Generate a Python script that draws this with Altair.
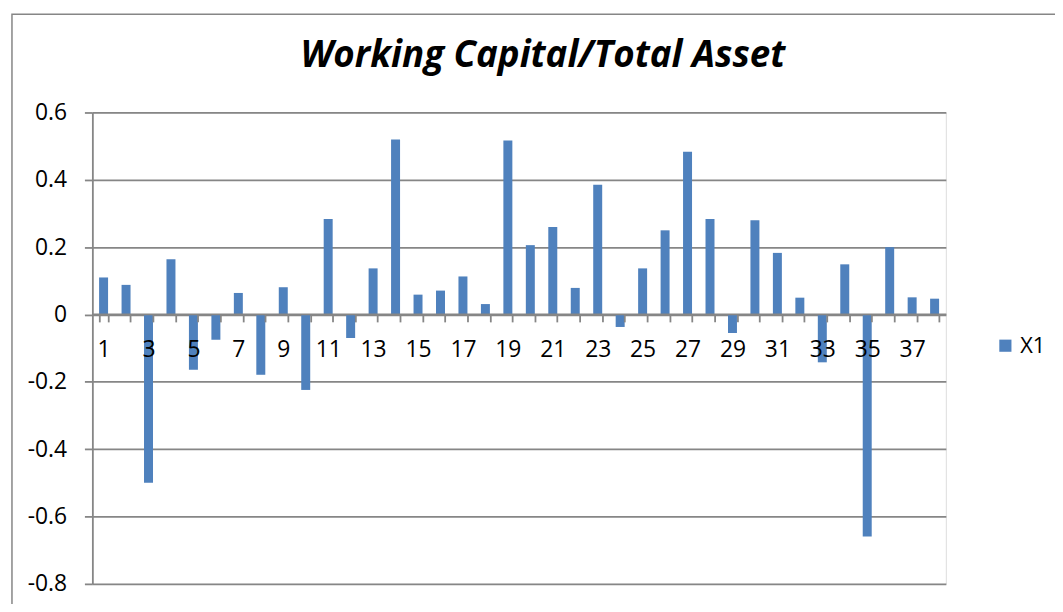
import altair as alt
import pandas as pd

categories = list(range(1, 39))
values = [0.110, 0.088, -0.500, 0.164, -0.164, -0.075, 0.064, -0.179, 0.081, -0.224,
          0.284, -0.070, 0.137, 0.520, 0.059, 0.071, 0.113, 0.031, 0.517, 0.206,
          0.260, 0.079, 0.385, -0.037, 0.137, 0.250, 0.483, 0.284, -0.055, 0.280,
          0.183, 0.050, -0.142, 0.149, -0.659, 0.200, 0.051, 0.047]
series_name = "X1"
y_ticks = [-0.8, -0.6, -0.4, -0.2, 0.0, 0.2, 0.4, 0.6]

df = pd.DataFrame({"Category": categories, "Value": values, "Series": [series_name] * len(categories)})

W, H = 860, 475
FONT = "Open Sans"
GRID = "#868686"

bars = alt.Chart(df).mark_bar(color="#4F81BD").encode(
    x=alt.X("Category:O",
            scale=alt.Scale(paddingInner=0.6, paddingOuter=0.3),
            axis=alt.Axis(title=None, orient="bottom", offset=-272, labelAngle=0,
                          tickBand="extent", tickSize=8, tickColor=GRID, tickWidth=1.8,
                          domainColor=GRID, domainWidth=1.8, zindex=1,
                          labelExpr="datum.value % 2 == 1 ? datum.label : ''",
                          labelFont=FONT, labelFontSize=23, labelColor="black",
                          labelPadding=17, grid=False)),
    y=alt.Y("Value:Q",
            scale=alt.Scale(domain=[-0.8, 0.6], nice=False, zero=False),
            axis=alt.Axis(title=None, values=y_ticks, format=".1~f",
                          labelExpr="replace(datum.label, '\u2212', '-')",
                          tickSize=8, tickColor=GRID, tickWidth=1.8,
                          domainColor=GRID, domainWidth=1.8,
                          grid=True, gridColor=GRID, gridWidth=1.8,
                          labelFont=FONT, labelFontSize=23, labelColor="black",
                          labelPadding=18)),
    color=alt.Color("Series:N",
                    scale=alt.Scale(range=["#4F81BD"]),
                    legend=alt.Legend(title=None, orient="none", legendX=909, legendY=224,
                                      symbolType="square", symbolSize=150, symbolStrokeWidth=0,
                                      labelFont=FONT, labelFontSize=22, labelColor="black")),
)

border_df = pd.DataFrame({"b": [1]})
border = alt.Chart(border_df).mark_rect(fill=None, stroke="#868686", strokeWidth=1.5).encode(
    x=alt.value(-81), x2=alt.value(1000), y=alt.value(-99), y2=alt.value(520)
)

chart = alt.layer(border, bars).properties(
    width=W, height=H,
    title=alt.TitleParams("Working Capital/Total Asset", font=FONT, fontSize=37,
                          fontWeight="bold", fontStyle="italic", color="black",
                          anchor="middle", frame="group", baseline="alphabetic",
                          dx=24, offset=-91),
    autosize=alt.AutoSizeParams(type="none"),
    padding={"left": 85, "top": 103, "right": 110, "bottom": 18},
).configure_view(stroke=None).configure(background="white")

chart.save("out.html", embed_options={"renderer": "svg", "actions": False})
